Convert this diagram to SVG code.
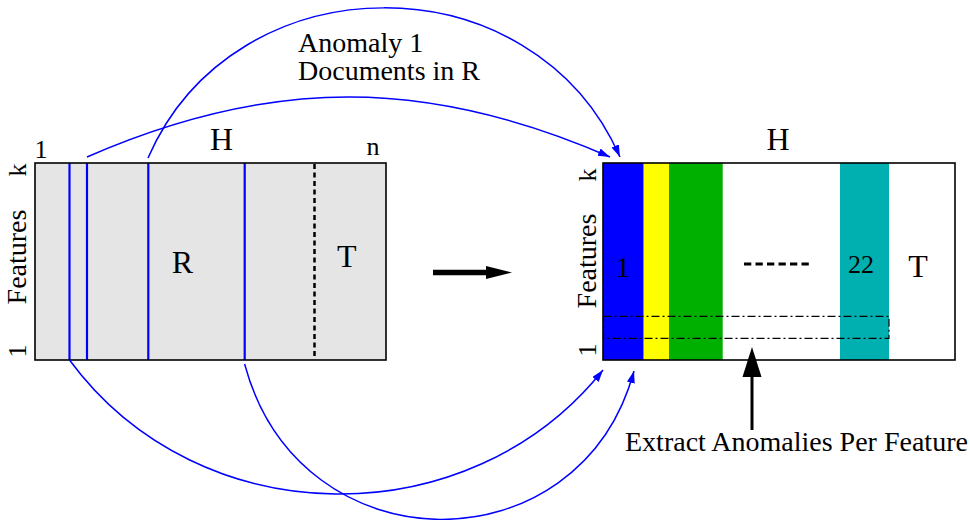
<svg xmlns="http://www.w3.org/2000/svg" width="970" height="520" viewBox="0 0 970 520">
  <style>
    text { font-family: "Liberation Serif", "Times New Roman", serif; fill: #000; }
    .lbl { font-size: 28px; }
    .big { font-size: 32px; }
    .sm { font-size: 26px; }
    .mid { text-anchor: middle; }
    .frame { fill: none; stroke: #000; stroke-width: 1.6; }
    .doc { stroke: #0000ff; stroke-width: 2.2; }
    .curve { fill: none; stroke: #0000ff; stroke-width: 1.5; marker-end: url(#bluehead); }
  </style>
  <defs>
    <marker id="bluehead" markerUnits="userSpaceOnUse" markerWidth="13" markerHeight="9" refX="12" refY="4" orient="auto">
      <path d="M0,0 L12,4 L0,8 z" fill="#0000ff"/>
    </marker>
  </defs>

  <!-- Left matrix H -->
  <g id="matrix-left">
    <rect x="35" y="163" width="351" height="197" fill="#e5e5e5"/>
    <line class="doc" x1="69.5" y1="163" x2="69.5" y2="360"/>
    <line class="doc" x1="87" y1="163" x2="87" y2="360"/>
    <line class="doc" x1="148.3" y1="163" x2="148.3" y2="360"/>
    <line class="doc" x1="244.7" y1="163" x2="244.7" y2="360"/>
    <line x1="314.5" y1="164" x2="314.5" y2="359" stroke="#000" stroke-width="2.5" stroke-dasharray="5 3.5"/>
    <rect class="frame" x="35" y="163" width="351" height="197"/>
    <text class="sm mid" x="41" y="158">1</text>
    <text class="big mid" x="221.5" y="150">H</text>
    <text class="sm mid" x="373" y="154.5">n</text>
    <text class="big mid" x="182.5" y="273">R</text>
    <text class="big mid" x="346.7" y="267">T</text>
    <text class="sm mid" transform="translate(26,170) rotate(-90)">k</text>
    <text class="lbl mid" transform="translate(26,257) rotate(-90)">Features</text>
    <text class="sm mid" transform="translate(26,351) rotate(-90)">1</text>
  </g>

  <!-- Right matrix H -->
  <g id="matrix-right">
    <rect x="603" y="163" width="352" height="197" fill="#ffffff"/>
    <rect x="603" y="163" width="40.7" height="197" fill="#0000ff"/>
    <rect x="643.7" y="163" width="25.3" height="197" fill="#ffff00"/>
    <rect x="669" y="163" width="53.7" height="197" fill="#00b000"/>
    <rect x="840" y="163" width="49" height="197" fill="#00b0b0"/>
    <line x1="744" y1="264" x2="809" y2="264" stroke="#000" stroke-width="3" stroke-dasharray="7.3 4.2"/>
    <rect x="603.5" y="316.3" width="285.5" height="22" fill="none" stroke="#000" stroke-width="1.2" stroke-dasharray="8 3 2 3"/>
    <rect class="frame" x="603" y="163" width="352" height="197"/>
    <text class="big mid" x="778" y="150">H</text>
    <text class="mid" style="font-size:29px" x="623" y="276.7">1</text>
    <text class="sm mid" x="861" y="273">22</text>
    <text class="big mid" x="918" y="277">T</text>
    <text class="sm mid" transform="translate(596,175) rotate(-90)">k</text>
    <text class="lbl mid" transform="translate(596,261) rotate(-90)">Features</text>
    <text class="sm mid" transform="translate(596,350) rotate(-90)">1</text>
  </g>

  <!-- Annotations -->
  <g id="label-anomaly">
    <text class="lbl" x="298" y="52">Anomaly 1</text>
    <text class="lbl" x="298" y="80">Documents in R</text>
  </g>
  <g id="label-extract">
    <text class="lbl" x="625" y="451">Extract Anomalies Per Feature</text>
  </g>

  <!-- Connectors -->
  <g id="connectors">
    <path class="curve" d="M148,158 C235,-42 533,-42 620,157"/>
    <path class="curve" d="M87,157 C270,77 427,77 610,157"/>
    <path class="curve" d="M69.5,360 C200,537 470,537 603,370"/>
    <path class="curve" d="M244.6,364 C300,570 580,570 634,371"/>
    <g id="transform-arrow">
      <line x1="433" y1="272.5" x2="488" y2="272.5" stroke="#000" stroke-width="5.5"/>
      <polygon points="486,266 512,272.5 486,279" fill="#000"/>
    </g>
    <g id="extract-arrow">
      <line x1="752" y1="430" x2="752" y2="375" stroke="#000" stroke-width="3"/>
      <polygon points="752,347 742.5,377 761.5,377" fill="#000"/>
    </g>
  </g>
</svg>
